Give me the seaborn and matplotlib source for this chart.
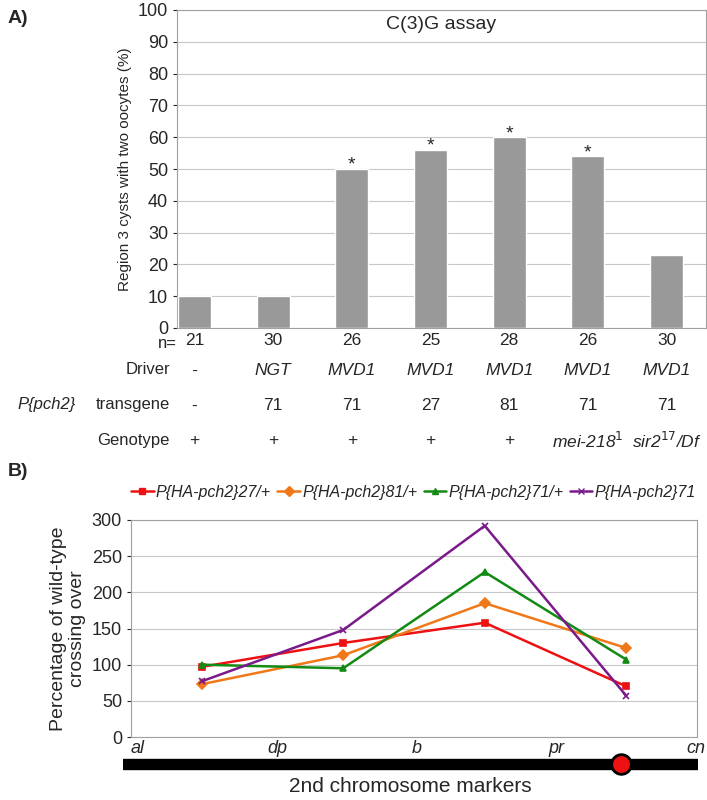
import numpy as np
import pandas as pd
import matplotlib
matplotlib.use("Agg")
import matplotlib.pyplot as plt
import seaborn as sns

# panel A data
n_counts = ["21", "30", "26", "25", "28", "26", "30"]
drivers = ["-", "NGT", "MVD1", "MVD1", "MVD1", "MVD1", "MVD1"]
transgenes = ["-", "71", "71", "27", "81", "71", "71"]
genotypes = ["+", "+", "+", "+", "+", r"mei-218$^{1}$", r"sir2$^{17}$/Df"]
two_oocytes = [10, 10, 50, 56, 60, 54, 23]
starred = [False, False, True, True, True, True, False]

# panel B data
intervals = [0.5, 1.5, 2.5, 3.5]
markers_lbl = ["al", "dp", "b", "pr", "cn"]
ha27 = [97, 130, 158, 70]
ha81 = [73, 113, 185, 123]
ha71_het = [100, 95, 228, 107]
ha71_hom = [77, 148, 292, 57]

sns.set_style("white")
plt.rcParams["font.family"] = ["Liberation Sans", "DejaVu Sans"]

fig = plt.figure(figsize=(7.07, 8), dpi=100)

# ---------------- panel A
axA = fig.add_axes([177/707, 1 - 328/800, 529/707, 318/800])
dfA = pd.DataFrame({"pos": [str(i) for i in range(7)], "val": two_oocytes})
sns.barplot(data=dfA, x="pos", y="val", color="#999999", width=0.42,
            saturation=1, ax=axA, zorder=3)
axA.set_xlim(-0.22, 6.5)
axA.set_ylim(0, 100)
axA.set_yticks(range(0, 101, 10))
axA.yaxis.grid(True, color="#c8c8c8", lw=0.8, zorder=0)
axA.set_xticks([])
axA.set_xlabel("")
axA.set_ylabel("Region 3 cysts with two oocytes (%)", fontsize=11)
axA.tick_params(axis="y", labelsize=13, length=3, left=True)
for s in axA.spines.values():
    s.set_color("#a0a0a0")
axA.text(0.5, 0.955, "C(3)G assay", transform=axA.transAxes, ha="center",
         va="center", fontsize=14)
for i, v in enumerate(two_oocytes):
    if starred[i]:
        axA.text(i, v - 1.5, "*", ha="center", va="bottom", fontsize=14)

trans = axA.get_xaxis_transform()
rows = [(-0.04, n_counts, False), (-0.135, drivers, True),
        (-0.245, transgenes, False), (-0.355, genotypes, None)]
for y, vals, ital in rows:
    for i, t in enumerate(vals):
        style = "italic" if ital or (ital is None and i >= 5) else "normal"
        axA.text(i, y, t, transform=trans, ha="center", va="center",
                 fontsize=12.5, style=style)
fig.text(167/707, 1 - 344/800, "n=", ha="center", va="center", fontsize=12)
fig.text(170/707, 1 - 370/800, "Driver", ha="right", va="center", fontsize=12)
fig.text(170/707, 1 - 405/800, "transgene", ha="right", va="center", fontsize=12)
fig.text(76/707, 1 - 405/800, "P{pch2}", ha="right", va="center", fontsize=12,
         style="italic")
fig.text(170/707, 1 - 440/800, "Genotype", ha="right", va="center", fontsize=12)
fig.text(8/707, 1 - 10/800, "A)", ha="left", va="top", fontsize=14,
         weight="bold")
fig.text(8/707, 1 - 463/800, "B)", ha="left", va="top", fontsize=14,
         weight="bold")

# ---------------- panel B
axB = fig.add_axes([131/707, 1 - 737/800, 566/707, 217/800])
series = [
    ("P{HA-pch2}27/+", ha27, "#ee1111", "s"),
    ("P{HA-pch2}81/+", ha81, "#f07818", "D"),
    ("P{HA-pch2}71/+", ha71_het, "#138a13", "^"),
    ("P{HA-pch2}71", ha71_hom, "#7a1a8a", "x"),
]
for name, vals, c, m in series:
    sns.lineplot(x=intervals, y=vals, color=c, marker=m, lw=1.8,
                 markersize=5, markeredgewidth=1.2, markeredgecolor=c,
                 ax=axB, label=name)
axB.legend_.remove()
axB.set_xlim(0, 4)
axB.set_ylim(0, 300)
axB.set_yticks(range(0, 301, 50))
axB.yaxis.grid(True, color="#c8c8c8", lw=0.8)
axB.set_xticks([])
axB.set_xlabel("")
axB.set_ylabel("Percentage of wild-type\ncrossing over", fontsize=14)
axB.tick_params(axis="y", labelsize=13, length=3, left=True)
for s in axB.spines.values():
    s.set_color("#a0a0a0")
for i, m in enumerate(markers_lbl):
    axB.text(i * 0.985 + 0.05, -0.055, m, transform=axB.get_xaxis_transform(),
             ha="center", va="center", fontsize=13, style="italic")

handles = [plt.Line2D([], [], color=c, marker=m, lw=1.8, markersize=5)
           for _, _, c, m in series]
fig.legend(handles, [n for n, _, _, _ in series], loc="center",
           bbox_to_anchor=(0.585, 1 - 492/800), ncol=4, frameon=False,
           prop={"size": 11.5, "style": "italic"}, handlelength=1.4,
           handletextpad=0.15, columnspacing=0.4)

# chromosome bar
axC = fig.add_axes([123/707, 1 - 775/800, 574/707, 22/800])
axC.set_xlim(0, 1)
axC.set_ylim(0, 1)
axC.axis("off")
axC.fill_between([0, 1], 0.27, 0.73, color="black")
axC.scatter([(621 - 123) / 574], [0.5], s=200, color="#ee1111",
            edgecolor="black", lw=2, zorder=3)
fig.text(410/707, 1 - 787/800, "2nd chromosome markers", ha="center",
         va="center", fontsize=15)

fig.savefig("out.png", dpi=100)
